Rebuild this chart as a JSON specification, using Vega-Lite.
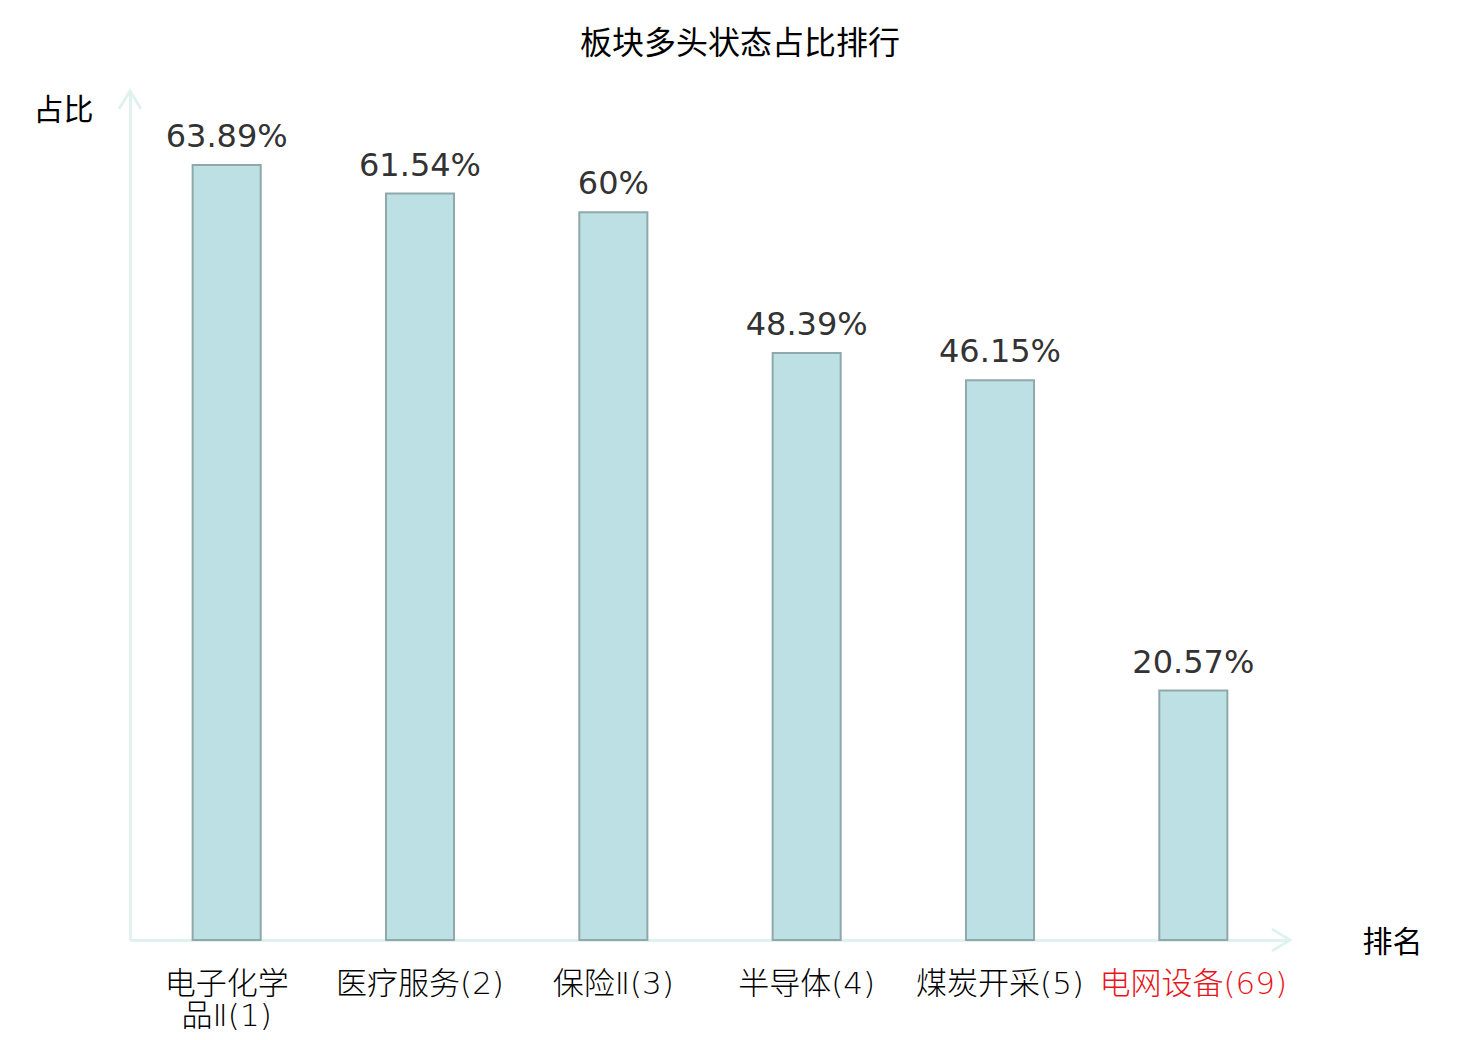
{
  "$schema": "https://vega.github.io/schema/vega-lite/v6.json",
  "description": "板块多头状态占比排行",
  "autosize": {"type": "none"},
  "padding": {"left": 130, "top": 91, "right": 190, "bottom": 100},
  "width": 1160,
  "height": 849,
  "background": "white",
  "title": {
    "text": "板块多头状态占比排行",
    "font": "Noto Sans CJK SC",
    "fontSize": 32,
    "fontWeight": "normal",
    "color": "#000000",
    "anchor": "middle",
    "dx": 30,
    "offset": 24
  },
  "data": {
    "values": [
      {"name": "电子化学品Ⅱ(1)", "ratio": 0.6389},
      {"name": "医疗服务(2)", "ratio": 0.6154},
      {"name": "保险Ⅱ(3)", "ratio": 0.60},
      {"name": "半导体(4)", "ratio": 0.4839},
      {"name": "煤炭开采(5)", "ratio": 0.4615},
      {"name": "电网设备(69)", "ratio": 0.2057}
    ]
  },
  "layer": [
    {
      "mark": {"type": "bar", "fill": "#bce0e3", "stroke": "#8fa8aa", "strokeWidth": 2},
      "encoding": {
        "x": {
          "field": "name",
          "type": "nominal",
          "sort": null,
          "scale": {"paddingInner": 0.648, "paddingOuter": 0.324},
          "axis": {
            "title": "排名",
            "titleFont": "Noto Sans CJK SC",
            "titleFontSize": 30,
            "titleFontWeight": "normal",
            "titleColor": "#000000",
            "titleAngle": 0,
            "titleAlign": "center",
            "titleBaseline": "middle",
            "titleX": 1262,
            "titleY": 2,
            "domainColor": "#dff2ef",
            "domainWidth": 3,
            "ticks": false,
            "tickSize": 0,
            "labelPadding": 29,
            "labelAngle": 0,
            "labelFont": "DejaVu Sans, Noto Sans CJK SC",
            "labelFontWeight": 200,
            "labelFontSize": 31,
            "labelLineHeight": 32,
            "labelBaseline": "top",
            "labelLimit": 0,
            "labelOverlap": false,
            "labelColor": {
              "condition": {"test": "datum.value == '电网设备(69)'", "value": "#e8141b"},
              "value": "#000000"
            },
            "labelExpr": "datum.label == '电子化学品Ⅱ(1)' ? ['电子化学', '品Ⅱ(1)'] : datum.label"
          }
        },
        "y": {
          "field": "ratio",
          "type": "quantitative",
          "scale": {"domain": [0, 0.7], "nice": false},
          "axis": {
            "title": "占比",
            "titleFont": "Noto Sans CJK SC",
            "titleFontSize": 30,
            "titleFontWeight": "normal",
            "titleColor": "#000000",
            "titleAngle": 0,
            "titleAlign": "center",
            "titleBaseline": "middle",
            "titleX": -67,
            "titleY": 19,
            "domainColor": "#dff2ef",
            "domainWidth": 3,
            "ticks": false,
            "labels": false,
            "grid": false
          }
        }
      }
    },
    {
      "mark": {
        "type": "text",
        "baseline": "alphabetic",
        "dy": -18,
        "font": "DejaVu Sans",
        "fontSize": 32,
        "color": "#333333"
      },
      "encoding": {
        "x": {"field": "name", "type": "nominal", "sort": null},
        "y": {"field": "ratio", "type": "quantitative"},
        "text": {"field": "ratio", "type": "quantitative", "format": ".2~%"}
      }
    },
    {
      "data": {"values": [{"arrow": "y", "ratio": 0.7}]},
      "mark": {
        "type": "point",
        "shape": "M-1,1.64L0,0L1,1.64",
        "filled": false,
        "stroke": "#dff2ef",
        "strokeWidth": 3,
        "size": 484,
        "opacity": 1
      },
      "encoding": {
        "x": {"value": 0},
        "y": {"field": "ratio", "type": "quantitative"}
      }
    },
    {
      "data": {"values": [{"arrow": "x", "ratio": 0}]},
      "mark": {
        "type": "point",
        "shape": "M-1.64,-1L0,0L-1.64,1",
        "filled": false,
        "stroke": "#dff2ef",
        "strokeWidth": 3,
        "size": 484,
        "opacity": 1
      },
      "encoding": {
        "x": {"value": "width"},
        "y": {"field": "ratio", "type": "quantitative"}
      }
    }
  ],
  "config": {
    "view": {"stroke": null}
  }
}
